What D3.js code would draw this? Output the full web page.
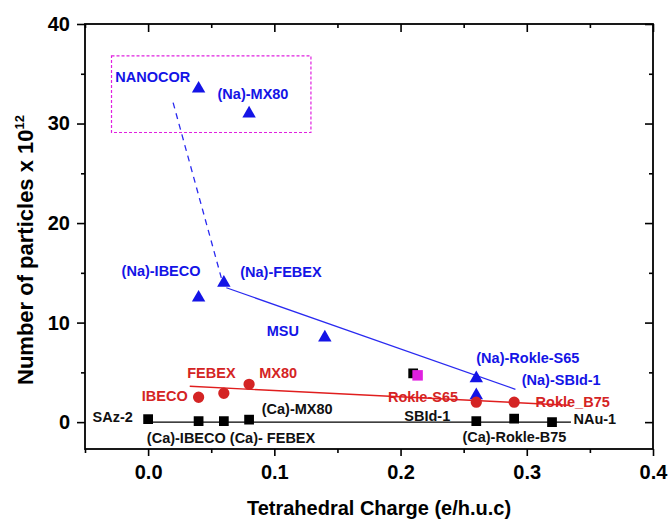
<!DOCTYPE html>
<html>
<head>
<meta charset="utf-8">
<script src="https://cdn.jsdelivr.net/npm/d3@7"></script>
<style>
  body { margin: 0; background: #fff; }
  svg { font-family: "Liberation Sans", Arial, sans-serif; }
  .lbl { font-size: 14.5px; font-weight: bold; }
  .tick text { font-size: 20px; font-weight: bold; font-family: "Liberation Sans", Arial, sans-serif; }
</style>
</head>
<body>
<svg id="chart" width="670" height="519"></svg>
<script>
// Na-exchanged clays (blue triangles)
const naNames = ["NANOCOR", "(Na)-MX80", "(Na)-IBECO", "(Na)-FEBEX", "MSU", "(Na)-Rokle-S65", "(Na)-SBId-1"];
const naX = [0.04, 0.08, 0.04, 0.06, 0.14, 0.26, 0.26];
const naY = [33.5, 31.0, 12.5, 14.0, 8.5, 4.4, 2.7];

// raw clays (red circles)
const rawNames = ["IBECO", "FEBEX", "MX80", "Rokle-S65", "Rokle_B75"];
const rawX = [0.04, 0.06, 0.08, 0.26, 0.29];
const rawY = [2.5, 2.9, 3.8, 2.0, 2.0];

// Ca-exchanged clays (black squares)
const caNames = ["SAz-2", "(Ca)-IBECO", "(Ca)- FEBEX", "(Ca)-MX80", "SBId-1", "(Ca)-Rokle-B75", "NAu-1"];
const caX = [0, 0.04, 0.06, 0.08, 0.26, 0.29, 0.32];
const caY = [0.3, 0.1, 0.1, 0.25, 0.1, 0.35, 0.0];

// the two overlapping squares near 0.21
const extraBlack = [[0.21, 4.9]];
const extraMagenta = [[0.2135, 4.7]];

// trend lines (end points)
const naTrend = [[0.062, 13.5], [0.291, 3.3]];
const naDashed = [[0.0198, 32.1], [0.058, 14.5]];
const rawTrend = [[0.033, 3.6], [0.333, 1.7]];
const caTrend = [[0, 0.0], [0.335, 0.0]];

// dotted box around the two high points
const boxX = [-0.029, 0.129];
const boxY = [29.1, 36.8];

// annotation texts [text, x, y]
const blueLabels = [
  ["NANOCOR", -0.026, 34.7], ["(Na)-MX80", 0.055, 33.0], ["(Na)-IBECO", -0.021, 15.2],
  ["(Na)-FEBEX", 0.073, 15.1], ["MSU", 0.094, 9.2], ["(Na)-Rokle-S65", 0.26, 6.5],
  ["(Na)-SBId-1", 0.296, 4.3]
];
const redLabels = [
  ["FEBEX", 0.031, 5.0], ["MX80", 0.088, 5.0], ["IBECO", -0.005, 2.6],
  ["Rokle-S65", 0.19, 2.5], ["Rokle_B75", 0.307, 2.0]
];
const blackLabels = [
  ["SAz-2", -0.044, 0.5], ["(Ca)-IBECO (Ca)- FEBEX", -0.001, -1.6], ["(Ca)-MX80", 0.09, 1.3],
  ["SBId-1", 0.203, 0.6], ["NAu-1", 0.337, 0.3], ["(Ca)-Rokle-B75", 0.249, -1.5]
];

const xMajor = [0, 0.1, 0.2, 0.3, 0.4];
const xMinor = [-0.05, 0.05, 0.15, 0.25, 0.35];
const yMajor = [0, 10, 20, 30, 40];
const yMinor = [5, 15, 25, 35];

const BLUE = "#1414e6";
const RED = "#d42424";
const MAGENTA = "#e020e0";

const svg = d3.select("#chart");
const width = +svg.attr("width");
const height = +svg.attr("height");
const margin = { top: 24, right: 17, bottom: 70, left: 85 };

const x = d3.scaleLinear().domain([-0.05, 0.4]).range([margin.left, width - margin.right]);
const y = d3.scaleLinear().domain([-2.7, 40]).range([height - margin.bottom, margin.top]);

// axes
const fmtX = d3.format(".1f");
svg.append("g")
  .attr("transform", `translate(0,${height - margin.bottom})`)
  .call(d3.axisBottom(x).tickValues(xMajor).tickFormat(fmtX).tickSize(7).tickPadding(9));
svg.append("g")
  .attr("transform", `translate(0,${height - margin.bottom})`)
  .call(d3.axisBottom(x).tickValues(xMinor).tickFormat("").tickSize(4));
svg.append("g")
  .attr("transform", `translate(0,${margin.top})`)
  .call(d3.axisTop(x).tickValues(xMajor).tickFormat("").tickSize(-8));
svg.append("g")
  .attr("transform", `translate(0,${margin.top})`)
  .call(d3.axisTop(x).tickValues(xMinor).tickFormat("").tickSize(-4));

svg.append("g")
  .attr("transform", `translate(${margin.left},0)`)
  .call(d3.axisLeft(y).tickValues(yMajor).tickSize(8).tickPadding(7));
svg.append("g")
  .attr("transform", `translate(${margin.left},0)`)
  .call(d3.axisLeft(y).tickValues(yMinor).tickFormat("").tickSize(4));
svg.append("g")
  .attr("transform", `translate(${width - margin.right},0)`)
  .call(d3.axisRight(y).tickValues(yMajor).tickFormat("").tickSize(-8));
svg.append("g")
  .attr("transform", `translate(${width - margin.right},0)`)
  .call(d3.axisRight(y).tickValues(yMinor).tickFormat("").tickSize(-4));

svg.selectAll(".domain").remove();
svg.selectAll(".tick line").attr("stroke", "#000").attr("stroke-width", 1.6);

svg.append("rect")
  .attr("x", margin.left)
  .attr("y", margin.top)
  .attr("width", width - margin.left - margin.right)
  .attr("height", height - margin.top - margin.bottom)
  .attr("fill", "none")
  .attr("stroke", "#000")
  .attr("stroke-width", 1.8);

// axis titles
svg.append("text")
  .attr("x", 379)
  .attr("y", 515)
  .attr("text-anchor", "middle")
  .style("font-size", "20px")
  .style("font-weight", "bold")
  .text("Tetrahedral Charge (e/h.u.c)");

const yt = svg.append("text")
  .attr("transform", "translate(33,250) rotate(-90)")
  .attr("text-anchor", "middle")
  .style("font-size", "22px")
  .style("font-weight", "bold");
yt.append("tspan").text("Number of particles x 10");
yt.append("tspan").attr("dy", "-9").style("font-size", "13px").text("12");

// dotted box
svg.append("rect")
  .attr("x", x(boxX[0]))
  .attr("y", y(boxY[1]))
  .attr("width", x(boxX[1]) - x(boxX[0]))
  .attr("height", y(boxY[0]) - y(boxY[1]))
  .attr("fill", "none")
  .attr("stroke", MAGENTA)
  .attr("stroke-width", 1.2)
  .attr("stroke-dasharray", "3,2");

// labels
function drawLabels(list, color) {
  svg.append("g")
    .selectAll("text")
    .data(list)
    .enter()
    .append("text")
    .attr("class", "lbl")
    .attr("x", (d) => x(d[1]))
    .attr("y", (d) => y(d[2]))
    .attr("dy", "0.36em")
    .attr("fill", color)
    .text((d) => d[0]);
}
drawLabels(blueLabels, BLUE);
drawLabels(redLabels, RED);
drawLabels(blackLabels, "#111");

// trend lines
const line = d3.line().x((d) => x(d[0])).y((d) => y(d[1]));
svg.append("path").attr("d", line(caTrend)).attr("fill", "none").attr("stroke", "#000").attr("stroke-width", 1.3);
svg.append("path").attr("d", line(rawTrend)).attr("fill", "none").attr("stroke", "#e01e1e").attr("stroke-width", 1.4);
svg.append("path").attr("d", line(naTrend)).attr("fill", "none").attr("stroke", "#2a2af0").attr("stroke-width", 1.3);
svg.append("path").attr("d", line(naDashed)).attr("fill", "none").attr("stroke", "#2a2af0")
  .attr("stroke-width", 1.3).attr("stroke-dasharray", "6,5");

// markers
function drawMarkers(xs, ys, type, size, color) {
  svg.append("g")
    .selectAll("path")
    .data(xs.map((v, i) => [v, ys[i]]))
    .enter()
    .append("path")
    .attr("transform", (d) => `translate(${x(d[0])},${y(d[1])})`)
    .attr("d", d3.symbol().type(type).size(size))
    .attr("fill", color);
}
drawMarkers(caX, caY, d3.symbolSquare, 95, "#000");
drawMarkers(extraBlack.map((d) => d[0]), extraBlack.map((d) => d[1]), d3.symbolSquare, 95, "#000");
drawMarkers(extraMagenta.map((d) => d[0]), extraMagenta.map((d) => d[1]), d3.symbolSquare, 110, MAGENTA);
drawMarkers(naX, naY, d3.symbolTriangle, 78, BLUE);
drawMarkers(rawX, rawY, d3.symbolCircle, 100, RED);
</script>
</body>
</html>
